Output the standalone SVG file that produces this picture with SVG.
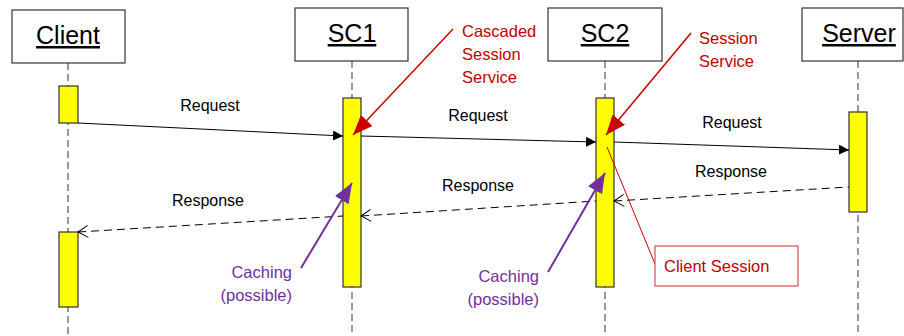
<svg xmlns="http://www.w3.org/2000/svg" width="904" height="336" viewBox="0 0 904 336">
<defs>
<style>
.box{fill:#fff;stroke:#333;stroke-width:1.2}
.title{font-family:"Liberation Sans",Arial,sans-serif;font-size:25px;fill:#000;text-anchor:middle;text-decoration:underline}
.life{stroke:#555;stroke-width:1.2;stroke-dasharray:7,4;fill:none}
.bar{fill:#ffff00;stroke:#333;stroke-width:1.2}
.lbl{font-family:"Liberation Sans",Arial,sans-serif;font-size:16px;fill:#000;text-anchor:middle}
.req{stroke:#000;stroke-width:1;fill:none}
.resp{stroke:#000;stroke-width:1;stroke-dasharray:8,5;fill:none}
.red{font-family:"Liberation Sans",Arial,sans-serif;font-size:16.5px;fill:#c00000}
.pur{font-family:"Liberation Sans",Arial,sans-serif;font-size:16.5px;fill:#7030a0;text-anchor:end}
</style>
<marker id="fill" viewBox="0 0 10 10" refX="10" refY="5" markerWidth="10" markerHeight="10" markerUnits="userSpaceOnUse" orient="auto">
<path d="M0,0 L10,5 L0,10 z" fill="#000"/>
</marker>
<marker id="open" viewBox="-1 -1 12 14" refX="10" refY="6" markerWidth="12" markerHeight="14" markerUnits="userSpaceOnUse" orient="auto-start-reverse">
<path d="M0,0 L10,6 L0,12" fill="none" stroke="#000" stroke-width="1"/>
</marker>
<marker id="redh" viewBox="0 0 20 16" refX="20" refY="8" markerWidth="20" markerHeight="16" markerUnits="userSpaceOnUse" orient="auto">
<path d="M0,0 L20,8 L0,16 z" fill="#cc0000"/>
</marker>
<marker id="purh" viewBox="0 0 20 16" refX="20" refY="8" markerWidth="20" markerHeight="16" markerUnits="userSpaceOnUse" orient="auto">
<path d="M0,0 L20,8 L0,16 z" fill="#7030a0"/>
</marker>
</defs>
<rect width="904" height="336" fill="#fff"/>

<g id="lifelines">
<line class="life" x1="68" y1="63" x2="68" y2="336"/>
<line class="life" x1="352" y1="61" x2="352" y2="336"/>
<line class="life" x1="605" y1="61" x2="605" y2="336"/>
<line class="life" x1="858" y1="61" x2="858" y2="336"/>
</g>

<g id="client">
<rect class="box" x="12" y="10" width="113" height="53"/>
<text class="title" x="68" y="44">Client</text>
<rect class="bar" x="59" y="86" width="19" height="37"/>
<rect class="bar" x="59" y="232" width="19" height="75"/>
</g>

<g id="sc1">
<rect class="box" x="295" y="8" width="113" height="53"/>
<text class="title" x="352" y="42">SC1</text>
<rect class="bar" x="343" y="98" width="18" height="189"/>
</g>

<g id="sc2">
<rect class="box" x="548" y="8" width="114" height="53"/>
<text class="title" x="605" y="42">SC2</text>
<rect class="bar" x="596" y="98" width="18" height="189"/>
</g>

<g id="server">
<rect class="box" x="802" y="8" width="101" height="53"/>
<text class="title" x="859" y="42">Server</text>
<rect class="bar" x="849" y="112" width="18" height="100"/>
</g>

<g id="connectors">
<line class="req" x1="78" y1="123" x2="343" y2="136" marker-end="url(#fill)"/>
<line class="req" x1="361" y1="136" x2="596" y2="142" marker-end="url(#fill)"/>
<line class="req" x1="614" y1="142" x2="849" y2="150" marker-end="url(#fill)"/>
<line class="resp" x1="614" y1="201" x2="849" y2="187" marker-start="url(#open)"/>
<line class="resp" x1="361" y1="216" x2="596" y2="201" marker-start="url(#open)"/>
<line class="resp" x1="78" y1="232" x2="343" y2="216" marker-start="url(#open)"/>
<line x1="453" y1="29" x2="353" y2="135" stroke="#cc0000" stroke-width="1.5" marker-end="url(#redh)"/>
<line x1="691" y1="33" x2="606" y2="135" stroke="#cc0000" stroke-width="1.5" marker-end="url(#redh)"/>
<line x1="607" y1="147" x2="655" y2="264" stroke="#cc0000" stroke-width="1"/>
<line x1="301" y1="268" x2="352" y2="183" stroke="#7030a0" stroke-width="2" marker-end="url(#purh)"/>
<line x1="548" y1="272" x2="605" y2="173" stroke="#7030a0" stroke-width="2" marker-end="url(#purh)"/>
</g>

<g id="labels">
<text class="lbl" x="210" y="111">Request</text>
<text class="lbl" x="478" y="121">Request</text>
<text class="lbl" x="732" y="128">Request</text>
<text class="lbl" x="731" y="177">Response</text>
<text class="lbl" x="478" y="191">Response</text>
<text class="lbl" x="208" y="206">Response</text>
</g>

<g id="note-cascaded">
<text class="red" x="462" y="37">Cascaded</text>
<text class="red" x="462" y="60">Session</text>
<text class="red" x="462" y="83">Service</text>
</g>

<g id="note-session">
<text class="red" x="699" y="44">Session</text>
<text class="red" x="699" y="67">Service</text>
</g>

<g id="note-client-session">
<rect x="655" y="246" width="143" height="40" fill="#fff" stroke="#d05050" stroke-width="1.2"/>
<text class="red" x="664" y="272">Client Session</text>
</g>

<g id="note-caching1">
<text class="pur" x="292" y="278">Caching</text>
<text class="pur" x="292" y="301">(possible)</text>
</g>

<g id="note-caching2">
<text class="pur" x="539" y="282">Caching</text>
<text class="pur" x="539" y="305">(possible)</text>
</g>
</svg>
